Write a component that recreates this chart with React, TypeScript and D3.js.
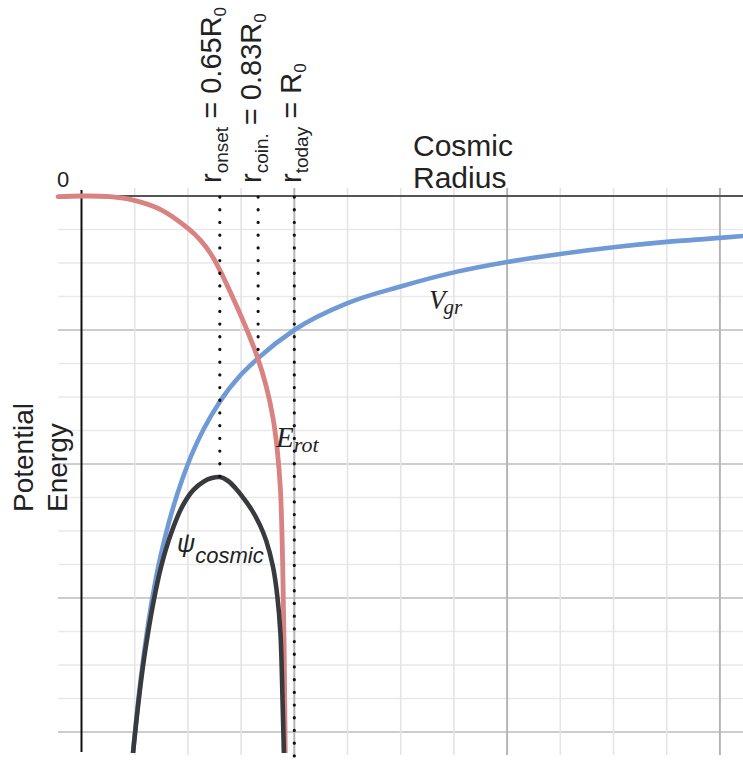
import React from 'react';
import * as d3 from 'd3';

// Gravitational potential V_gr (grid units: r in cells, value in cells)
const vgrR = [0.95, 1.1, 1.25, 1.4, 1.6, 1.8, 2.0, 2.3, 2.6, 3.0, 3.32, 4.0, 5.0, 6.0, 7.0, 8.0, 9.0, 10.0, 11.0, 12.0, 12.45];
const vgrV = [-16.9, -14.6, -12.8, -11.4, -10.0, -8.9, -8.0, -6.95, -6.14, -5.33, -4.84, -4.0, -3.2, -2.7, -2.28, -1.97, -1.73, -1.53, -1.37, -1.25, -1.19];

// Rotational energy E_rot
const erotR = [-0.44, 0, 0.54, 0.99, 1.48, 2.02, 2.23, 2.42, 2.6, 2.85, 3.11, 3.3, 3.47, 3.6, 3.68, 3.74, 3.78, 3.81, 3.83, 3.84];
const erotV = [-0.02, 0, -0.02, -0.13, -0.4, -0.99, -1.31, -1.7, -2.21, -3.05, -4.0, -4.78, -5.67, -6.63, -7.58, -8.78, -10.87, -13.55, -16.6, -17.13];

// Cosmic potential psi
const psiR = [0.95, 1.0, 1.1, 1.2, 1.35, 1.5, 1.7, 1.9, 2.1, 2.3, 2.45, 2.6, 2.75, 2.9, 3.05, 3.2, 3.35, 3.47, 3.6, 3.68, 3.74, 3.78, 3.81];
const psiV = [-16.95, -16.14, -14.72, -13.55, -12.14, -11.04, -10.0, -9.25, -8.78, -8.52, -8.42, -8.39, -8.5, -8.73, -9.03, -9.37, -9.81, -10.28, -11.07, -11.93, -13.06, -15.1, -17.0];

// Grid
const gridR = [1, 2, 3, 4, 5, 6, 7, 8, 9, 10, 11, 12];
const gridV = [-1, -2, -3, -4, -5, -6, -7, -8, -9, -10, -11, -12, -13, -14, -15, -16];

// Marker lines
const markerSub = ['onset', 'coin.', 'today'];
const markerValue = ['0.65R', '0.83R', 'R'];
const markerR = [2.6, 3.32, 4.0];
const markerEnd = [-8.39, -4.95, -17.2];

const SANS = "'Liberation Sans', Arial, Helvetica, sans-serif";
const SERIF = "'Liberation Serif', 'Times New Roman', serif";

export default function App() {
  const W = 743;
  const H = 761;
  const x = d3.scaleLinear().domain([0, 12]).range([81.5, 719.9]);
  const y = d3.scaleLinear().domain([0, -16]).range([196, 732]);
  const lineM = d3
    .line<[number, number]>()
    .x((d) => x(d[0]))
    .y((d) => y(d[1]))
    .curve(d3.curveMonotoneX);
  const lineC = d3
    .line<[number, number]>()
    .x((d) => x(d[0]))
    .y((d) => y(d[1]))
    .curve(d3.curveCatmullRom.alpha(0.5));

  const vgr = vgrR.map((r, i) => [r, vgrV[i]] as [number, number]);
  const erot = erotR.map((r, i) => [r, erotV[i]] as [number, number]);
  const psi = psiR.map((r, i) => [r, psiV[i]] as [number, number]);

  const gridLeft = 58;
  const gridTop = 188;
  const gridBottom = 755;

  return (
    <svg
      width={W}
      height={H}
      style={{ position: 'absolute', left: 0, top: 0, display: 'block', background: '#fff' }}
    >
      <defs>
        <clipPath id="plotClip">
          <rect x={0} y={0} width={W} height={753} />
        </clipPath>
      </defs>
      {/* grid */}
      <g>
        {gridV.map((v) => {
          const major = v % 4 === 0;
          return (
            <line
              key={'h' + v}
              x1={gridLeft}
              x2={W}
              y1={y(v)}
              y2={y(v)}
              stroke={major ? '#cdcdcd' : '#e9e9e9'}
              strokeWidth={major ? 2 : 1.6}
            />
          );
        })}
        {gridR.map((r) => {
          const major = r % 4 === 0;
          return (
            <line
              key={'v' + r}
              x1={x(r)}
              x2={x(r)}
              y1={gridTop}
              y2={gridBottom}
              stroke={major ? '#b5b5b5' : '#e4e4e4'}
              strokeWidth={major ? 2 : 1.6}
            />
          );
        })}
      </g>
      {/* axes */}
      <line x1={gridLeft} x2={W} y1={y(0)} y2={y(0)} stroke="#555" strokeWidth={2} />
      <line x1={x(0)} x2={x(0)} y1={190} y2={752} stroke="#111" strokeWidth={2} />

      {/* curves */}
      <g clipPath="url(#plotClip)" fill="none" strokeLinecap="round">
        <path d={lineM(vgr) || ''} stroke="#6f9ad6" strokeWidth={4.6} />
        <path d={lineC(erot) || ''} stroke="#d98282" strokeWidth={4.8} />
        <path d={lineC(psi) || ''} stroke="#383a3d" strokeWidth={4.6} />
      </g>

      {/* dotted marker lines */}
      {markerR.map((r, i) => (
        <line
          key={'m' + i}
          x1={x(r)}
          x2={x(r)}
          y1={y(0) + 1}
          y2={y(markerEnd[i])}
          stroke="#111"
          strokeWidth={3.2}
          strokeDasharray="0.1 12.6"
          strokeLinecap="round"
        />
      ))}

      {/* marker labels */}
      {markerSub.map((s, i) => (
        <text
          key={'ml' + i}
          transform={`translate(${221 + i * 40},183) rotate(-90)`}
          fontFamily={SANS}
          fontSize={29}
          fill="#222"
        >
          r
          <tspan fontSize={19} dy={7}>
            {s}
          </tspan>
          <tspan dy={-7}>{' = ' + markerValue[i]}</tspan>
          <tspan fontSize={17} dy={5}>
            0
          </tspan>
        </text>
      ))}

      {/* axis labels */}
      <text x={57} y={187} fontFamily={SANS} fontSize={22} fill="#222">
        0
      </text>
      <text x={413} y={156} fontFamily={SANS} fontSize={30} fill="#222">
        Cosmic
      </text>
      <text x={413} y={188} fontFamily={SANS} fontSize={30} fill="#222">
        Radius
      </text>
      <text transform="translate(33,512) rotate(-90)" fontFamily={SANS} fontSize={28} fill="#222">
        Potential
      </text>
      <text transform="translate(67,512) rotate(-90)" fontFamily={SANS} fontSize={28} fill="#222">
        Energy
      </text>

      {/* curve labels */}
      <text x={429} y={309} fontFamily={SERIF} fontStyle="italic" fontSize={27} fill="#222">
        V
        <tspan fontSize={21} dy={5} dx={-2}>
          gr
        </tspan>
      </text>
      <text x={276} y={447} fontFamily={SERIF} fontStyle="italic" fontSize={29} fill="#222">
        E
        <tspan fontSize={22} dy={5}>
          rot
        </tspan>
      </text>
      <text x={177} y={552} fontFamily={SANS} fontStyle="italic" fontSize={25} fill="#222">
        ψ
        <tspan fontSize={22} dy={11}>
          cosmic
        </tspan>
      </text>
    </svg>
  );
}
